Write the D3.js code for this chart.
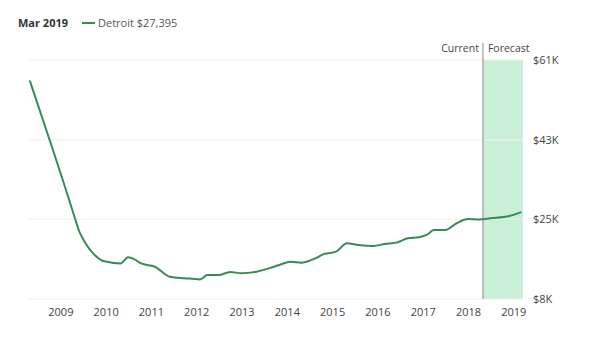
<!DOCTYPE html>
<html>
<head>
<meta charset="utf-8">
<script src="https://cdn.jsdelivr.net/npm/d3@7/dist/d3.min.js"></script>
<style>
  html, body { margin: 0; padding: 0; background: #fff; }
  svg { display: block; font-family: "Open Sans", "Noto Sans", sans-serif; }
</style>
</head>
<body>
<svg id="chart" width="589" height="342"></svg>
<script>
// ---- data ----
const seriesName = "Detroit";
const headerDate = "Mar 2019";
const headerValue = "$27,395";
const months = [
  "2008-05","2008-11","2009-02","2009-05","2009-06","2009-07","2009-08","2009-09",
  "2009-10","2009-11","2009-12","2010-01",
  "2010-05","2010-07","2010-09","2010-10","2010-12",
  "2011-02","2011-06","2011-10",
  "2012-02","2012-04","2012-07","2012-10",
  "2013-01","2013-05","2013-09","2013-11",
  "2014-02","2014-05","2014-08","2014-11",
  "2015-02","2015-05","2015-08","2015-12",
  "2016-03","2016-06","2016-09","2016-12",
  "2017-02","2017-04","2017-07","2017-10",
  "2018-01","2018-04","2018-07","2018-12","2019-03"
];
const values = [
  56300,41150,33400,25700,23080,21420,19980,18760,
  17870,17090,16540,16320,
  15900,17250,16650,16050,15550,
  15150,12950,12600,
  12350,13300,13300,14000,
  13700,14050,15000,15550,
  16250,16050,16800,18000,
  18500,20350,19950,19750,
  20200,20500,21450,21700,
  22200,23300,23300,24800,
  25750,25650,25900,26400,27200
];
const currentMonth = "2018-05";
const yTickValues = [8000, 25700, 43300, 61000];
const yTickLabels = ["$8K", "$25K", "$43K", "$61K"];
const xTickYears = [2009,2010,2011,2012,2013,2014,2015,2016,2017,2018,2019];

// ---- layout ----
const svg = d3.select("#chart");
const parse = d3.timeParse("%Y-%m");
const data = months.map((m, i) => ({ date: parse(m), value: values[i] }));

const pLeft = 28, pRight = 523, pTop = 60, pBottom = 299;
const x = d3.scaleTime()
  .domain([new Date(2008, 3, 15), new Date(2019, 2, 20)])
  .range([pLeft, pRight]);
const y = d3.scaleLinear().domain([8000, 61000]).range([pBottom, pTop]);

// forecast band
const cx = x(parse(currentMonth));
svg.append("rect")
  .attr("x", cx).attr("y", pTop)
  .attr("width", pRight - cx).attr("height", pBottom - pTop)
  .attr("fill", "#c9efd7");

// gridlines
svg.append("g").selectAll("line").data(yTickValues).join("line")
  .attr("x1", pLeft).attr("x2", pRight)
  .attr("y1", d => y(d)).attr("y2", d => y(d))
  .attr("stroke", "#efefef").attr("stroke-width", 1);

// y labels
svg.append("g").selectAll("text").data(yTickValues).join("text")
  .attr("x", 533).attr("y", d => y(d))
  .attr("dy", "0.35em")
  .attr("font-size", 11).attr("fill", "#444")
  .text((d, i) => yTickLabels[i]);

// x axis labels
const xAxis = d3.axisBottom(x)
  .tickValues(xTickYears.map(yr => new Date(yr, 0, 1)))
  .tickFormat(d3.timeFormat("%Y"))
  .tickSize(0).tickPadding(9);
const gx = svg.append("g").attr("transform", `translate(0,${pBottom})`).call(xAxis);
gx.select(".domain").remove();
gx.selectAll("text").attr("font-size", 11).attr("fill", "#444")
  .attr("font-family", "\"Open Sans\", \"Noto Sans\", sans-serif");

// current divider
svg.append("line")
  .attr("x1", cx).attr("x2", cx).attr("y1", 43).attr("y2", pBottom)
  .attr("stroke", "#8a8a8a").attr("stroke-width", 1);
svg.append("text").attr("x", cx - 4).attr("y", 48).attr("dy", "0.35em")
  .attr("text-anchor", "end").attr("font-size", 10.5).attr("fill", "#444").text("Current");
svg.append("text").attr("x", cx + 5).attr("y", 48).attr("dy", "0.35em")
  .attr("font-size", 10.5).attr("fill", "#444").text("Forecast");

// line
const line = d3.line().x(d => x(d.date)).y(d => y(d.value)).curve(d3.curveMonotoneX);
svg.append("path").datum(data)
  .attr("d", line).attr("fill", "none")
  .attr("stroke", "#3a8a57").attr("stroke-width", 2)
  .attr("stroke-linejoin", "round").attr("stroke-linecap", "round");

// header
svg.append("text").attr("x", 18).attr("y", 23).attr("dy", "0.35em")
  .attr("font-size", 11).attr("font-weight", 700).attr("fill", "#333").text(headerDate);
svg.append("line").attr("x1", 82).attr("x2", 95).attr("y1", 23).attr("y2", 23)
  .attr("stroke", "#3a8a57").attr("stroke-width", 2);
svg.append("text").attr("x", 98).attr("y", 23).attr("dy", "0.35em")
  .attr("font-size", 11).attr("fill", "#555").text(`${seriesName} ${headerValue}`);
</script>
</body>
</html>
